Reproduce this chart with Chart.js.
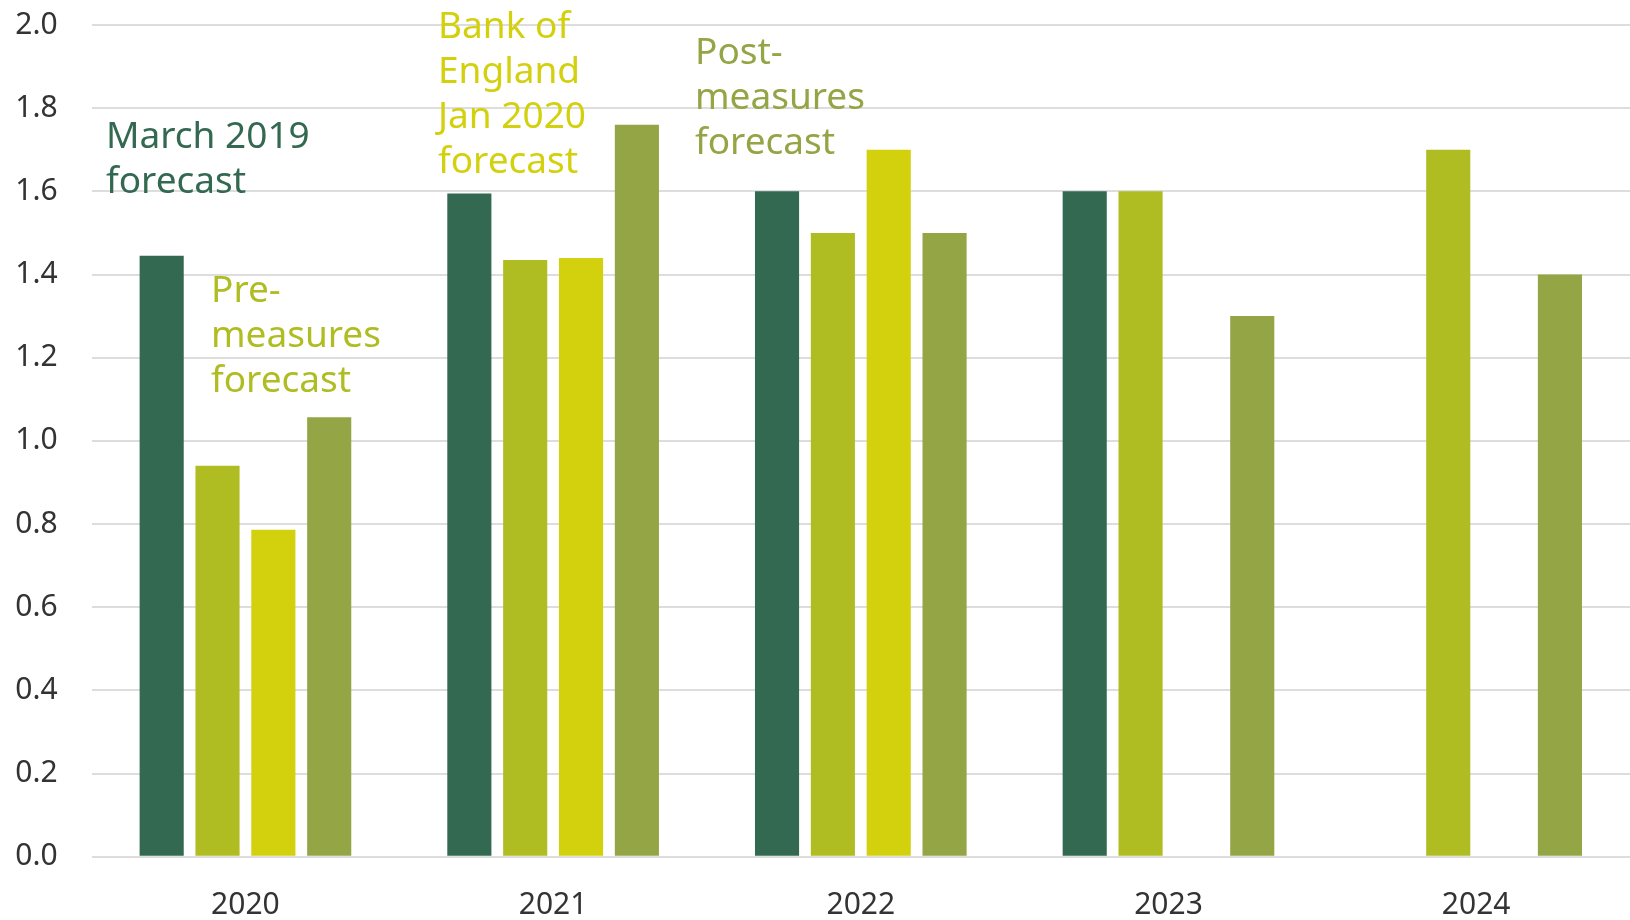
<!DOCTYPE html>
<html>
<head>
<meta charset="utf-8">
<script src="https://cdn.jsdelivr.net/npm/chart.js@4"></script>
<style>
  html, body { margin: 0; padding: 0; background: #fff; }
  #wrap { width: 1630px; height: 920px; position: relative; }
</style>
</head>
<body>
<div id="wrap"><canvas id="forecasts"></canvas></div>
<script>
// === Datos ===
const years = ['2020', '2021', '2022', '2023', '2024'];
const march2019 = [1.445, 1.595, 1.6, 1.6, null];
const preMeasures = [0.94, 1.435, 1.5, 1.6, 1.7];
const boeJan2020 = [0.786, 1.44, 1.7, null, null];
const postMeasures = [1.057, 1.76, 1.5, 1.3, 1.4];
const yTicks = [0, 0.2, 0.4, 0.6, 0.8, 1.0, 1.2, 1.4, 1.6, 1.8, 2.0];

const seriesNames = [
  ['March 2019', 'forecast'],
  ['Pre-', 'measures', 'forecast'],
  ['Bank of', 'England', 'Jan 2020', 'forecast'],
  ['Post-', 'measures', 'forecast']
];

const colores = ['#336851', '#afbd22', '#d3d00d', '#94a545'];

// etiquetas de serie escritas dentro del gráfico
const serieLabels = {
  id: 'serieLabels',
  afterDraw(chart) {
    const ctx = chart.ctx;
    const spots = [
      { x: 106, y: 148 },
      { x: 211, y: 302 },
      { x: 438, y: 38 },
      { x: 695, y: 64 }
    ];
    ctx.save();
    ctx.font = '37px "Noto Sans"';
    ctx.textAlign = 'left';
    ctx.textBaseline = 'alphabetic';
    seriesNames.forEach((lines, i) => {
      ctx.fillStyle = colores[i];
      lines.forEach((t, j) => ctx.fillText(t, spots[i].x, spots[i].y + j * 45));
    });
    ctx.restore();
  }
};

const mkSet = (label, data, color) => ({
  label: label,
  data: data,
  backgroundColor: color,
  borderWidth: 0,
  categoryPercentage: 0.726,
  barPercentage: 0.79
});

new Chart(document.getElementById('forecasts'), {
  type: 'bar',
  data: {
    labels: years,
    datasets: [
      mkSet('March 2019 forecast', march2019, colores[0]),
      mkSet('Pre-measures forecast', preMeasures, colores[1]),
      mkSet('Bank of England Jan 2020 forecast', boeJan2020, colores[2]),
      mkSet('Post-measures forecast', postMeasures, colores[3])
    ]
  },
  options: {
    responsive: true,
    maintainAspectRatio: false,
    animation: false,
    layout: { padding: { top: 25, right: 0, left: 0, bottom: 0 } },
    plugins: {
      legend: { display: false },
      tooltip: { enabled: false }
    },
    scales: {
      x: {
        grid: { display: false, drawTicks: false },
        border: { display: false },
        ticks: {
          color: '#333333',
          font: { family: 'Noto Sans', size: 30 },
          padding: 31
        },
        afterFit(scale) { scale.height = 63.3; }
      },
      y: {
        min: 0,
        max: 2.0,
        afterBuildTicks(scale) { scale.ticks = yTicks.map(v => ({ value: v })); },
        grid: { color: '#dddddd', lineWidth: 2, drawTicks: false },
        border: { display: false },
        ticks: {
          color: '#333333',
          font: { family: 'Noto Sans', size: 30 },
          padding: 34,
          callback: v => v.toFixed(1)
        },
        afterFit(scale) {
          scale.width = 91.6;
          scale.paddingTop = 0;
          scale.paddingBottom = 0;
        }
      }
    }
  },
  plugins: [serieLabels]
});
</script>
</body>
</html>
